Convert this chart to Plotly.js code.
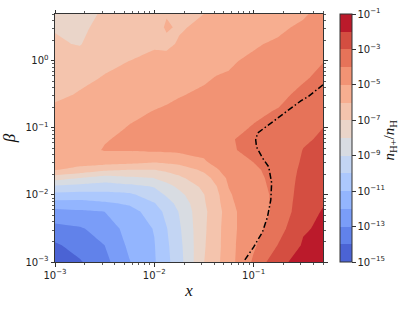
<!DOCTYPE html>
<html>
<head>
<meta charset="utf-8">
<script src="https://cdn.plot.ly/plotly-3.0.1.min.js"></script>
<style>html,body{margin:0;padding:0;background:#fff;}#chart{width:415px;height:310px;}</style>
</head>
<body>
<div id="chart"></div>
<script>
// grid of x values
const xGrid = [0.001, 0.00178, 0.00316, 0.00562, 0.01, 0.0133, 0.0178, 0.0316, 0.0422, 0.0562, 0.1, 0.178, 0.316, 0.5];
// grid of beta values
const betaGrid = [0.001, 0.00178, 0.00316, 0.00562, 0.0075, 0.01, 0.0133, 0.0178, 0.0237, 0.0316,
                  0.0468, 0.0676, 0.1, 0.178, 0.316, 0.562, 1, 1.78, 3.16, 5];
// log10(n_H+/n_H), one row per beta value
const logRatio = [
  [-14.7, -14.1, -13.3, -12.05, -11.1, -10.25, -9.4, -7.02, -6.25, -5.4, -3.85, -2.2, -1.7, -1.4],
  [-14.15, -13.6, -13.0, -11.8, -11.05, -10.18, -9.3, -7.1, -6.38, -5.35, -4.15, -2.95, -1.9, -1.6],
  [-13.3, -13.1, -12.6, -11.6, -10.95, -10.05, -9.15, -7.15, -6.44, -5.3, -4.4, -3.4, -2.1, -1.85],
  [-12.3, -12.15, -12.0, -11.4, -10.5, -9.73, -8.95, -7.15, -6.6, -5.3, -4.4, -3.8, -2.3, -1.95],
  [-11.4, -11.4, -11.15, -10.85, -10.05, -9.38, -8.7, -7.1, -6.4, -5.2, -4.35, -3.8, -2.4, -2.05],
  [-10.35, -10.4, -10.3, -10.2, -9.5, -8.9, -8.3, -7.03, -6.3, -5.1, -4.35, -3.8, -2.5, -2.15],
  [-9.2, -9.4, -9.5, -9.3, -8.95, -8.38, -7.8, -6.8, -6.05, -4.98, -4.3, -3.75, -2.6, -2.3],
  [-7.6, -8.05, -8.5, -8.2, -8.0, -7.6, -7.2, -6.4, -5.7, -4.8, -4.25, -3.7, -2.7, -2.45],
  [-5.95, -6.3, -6.8, -7.0, -7.0, -6.8, -6.6, -5.8, -5.1, -4.6, -4.15, -3.65, -2.8, -2.55],
  [-5.7, -5.6, -5.5, -5.6, -5.85, -5.73, -5.6, -5.1, -4.7, -4.4, -3.98, -3.6, -2.9, -2.65],
  [-5.55, -5.3, -4.95, -4.95, -4.85, -4.83, -4.8, -4.75, -4.5, -4.1, -3.8, -3.55, -2.98, -2.78],
  [-5.5, -5.4, -5.05, -4.85, -4.75, -4.68, -4.6, -4.6, -4.35, -4.05, -3.85, -3.65, -3.1, -2.9],
  [-5.6, -5.55, -5.25, -4.95, -4.8, -4.7, -4.6, -4.55, -4.4, -4.2, -3.95, -3.75, -3.25, -3.0],
  [-5.78, -5.75, -5.5, -5.2, -4.98, -4.89, -4.8, -4.7, -4.6, -4.5, -4.15, -3.95, -3.5, -3.3],
  [-6.2, -5.93, -5.7, -5.45, -5.3, -5.18, -5.05, -4.88, -4.82, -4.75, -4.35, -4.2, -3.8, -3.55],
  [-6.45, -6.2, -5.95, -5.7, -5.55, -5.45, -5.35, -5.1, -4.97, -4.93, -4.6, -4.4, -4.1, -3.8],
  [-6.7, -6.6, -6.2, -6.0, -5.8, -5.7, -5.6, -5.35, -5.22, -5.1, -4.85, -4.6, -4.35, -4.03],
  [-6.9, -7.05, -6.45, -6.25, -6.1, -6.2, -5.9, -5.6, -5.45, -5.3, -5.1, -4.85, -4.6, -4.25],
  [-7.05, -7.2, -6.7, -6.5, -6.35, -5.9, -6.1, -5.8, -5.65, -5.5, -5.3, -5.2, -4.8, -4.45],
  [-7.2, -7.25, -6.9, -6.7, -6.55, -6.05, -6.3, -6.0, -5.85, -5.7, -5.5, -5.3, -5.15, -4.6]
];
// dash-dotted boundary curve
const boundaryX = [0.5, 0.351, 0.299, 0.201, 0.149, 0.110, 0.105, 0.107, 0.123, 0.142, 0.152, 0.149, 0.138, 0.123, 0.100, 0.079];
const boundaryBeta = [0.439, 0.290, 0.253, 0.162, 0.119, 0.0841, 0.0662, 0.0520, 0.0356, 0.0262, 0.0151, 0.00841, 0.0047, 0.00281, 0.00167, 0.001];
// contour levels (log10) and colours of the 14 bands
const levelStart = -15, levelEnd = -1, levelStep = 1;
const bandColors = ['#4b63d4','#6182ea','#7a9df8','#93b5fe','#acc8fd','#c3d5f3','#d8dce2',
                    '#ead5c9','#f4c4ad','#f7ae90','#f29374','#e67359','#d44e41','#bb1a2b'];
const cbTickVals = [-15, -13, -11, -9, -7, -5, -3, -1];
const axisTickVals = [0.001, 0.01, 0.1, 1];

function sup(e) { return '10<sup>' + (e < 0 ? '\u2212' + (-e) : e) + '</sup>'; }

// colourscale for contour fill (plotly evaluates each band at level + step/2)
const nLev = Math.round((levelEnd - levelStart) / levelStep) + 1;
const contourScale = [];
for (let j = 0; j <= nLev; j++) {
  const col = bandColors[Math.min(Math.max(j - 1, 0), bandColors.length - 1)];
  const a = Math.max(0, (j - 0.5) / nLev), b = Math.min(1, (j + 0.5) / nLev);
  contourScale.push([a, col], [b, col]);
}
// colourscale for the colour bar
const nb = bandColors.length;
const barScale = [];
bandColors.forEach((c, k) => { barScale.push([k / nb, c], [(k + 1) / nb, c]); });

function minorVals(lo, hi) {
  const out = [];
  for (let e = lo; e <= hi; e++) for (let m = 2; m <= 9; m++) out.push(m * Math.pow(10, e));
  return out;
}

const lineCol = '#333';
const tickFont = {family: 'DejaVu Sans', size: 10, color: '#222'};

const traces = [
  {
    type: 'contour', x: xGrid, y: betaGrid, z: logRatio,
    autocontour: false,
    contours: {start: levelStart, end: levelEnd, size: levelStep, coloring: 'fill', showlines: false},
    line: {width: 0, smoothing: 0},
    colorscale: contourScale, showscale: false, hoverinfo: 'skip'
  },
  {
    type: 'scatter', mode: 'lines', x: boundaryX, y: boundaryBeta,
    line: {color: '#000', width: 1.5, dash: '6px,2.5px,1.5px,2.5px'},
    hoverinfo: 'skip', showlegend: false
  },
  {
    type: 'scatter', mode: 'markers', x: [0.01], y: [0.01],
    marker: {
      size: 1, opacity: 0, color: [-8], cmin: levelStart, cmax: levelEnd,
      colorscale: barScale, showscale: true,
      colorbar: {
        x: 1.0634, xanchor: 'left', y: 0.5, yanchor: 'middle',
        len: 248, lenmode: 'pixels', thickness: 12, thicknessmode: 'pixels',
        xpad: 0, ypad: 0, outlinewidth: 1, outlinecolor: lineCol,
        tickmode: 'array', tickvals: cbTickVals, ticktext: cbTickVals.map(sup),
        ticks: 'outside', ticklen: 3.5, tickwidth: 1, tickcolor: lineCol,
        tickfont: tickFont
      }
    },
    hoverinfo: 'skip', showlegend: false
  }
];

const layout = {
  width: 415, height: 310,
  margin: {l: 55, r: 92, t: 14, b: 48},
  paper_bgcolor: '#fff', plot_bgcolor: '#fff',
  showlegend: false,
  xaxis: {
    type: 'log', range: [-3, Math.log10(0.5)],
    tickmode: 'array', tickvals: axisTickVals, ticktext: axisTickVals.map(v => sup(Math.round(Math.log10(v)))),
    ticks: 'outside', ticklen: 3.5, tickwidth: 1, tickcolor: lineCol,
    minor: {tickmode: 'array', tickvals: minorVals(-3, -1), ticks: 'outside', ticklen: 2, tickwidth: 0.8, tickcolor: lineCol, showgrid: false},
    showline: true, linecolor: lineCol, linewidth: 1, mirror: 'allticks',
    showgrid: false, zeroline: false, tickfont: tickFont,
    title: {text: '<i>x</i>', font: {family: 'Liberation Serif', size: 17, color: '#111'}, standoff: 4},
    automargin: false
  },
  yaxis: {
    type: 'log', range: [-3, Math.log10(5)],
    tickmode: 'array', tickvals: axisTickVals, ticktext: axisTickVals.map(v => sup(Math.round(Math.log10(v)))),
    ticks: 'outside', ticklen: 3.5, tickwidth: 1, tickcolor: lineCol,
    minor: {tickmode: 'array', tickvals: minorVals(-3, 0), ticks: 'outside', ticklen: 2, tickwidth: 0.8, tickcolor: lineCol, showgrid: false},
    showline: true, linecolor: lineCol, linewidth: 1, mirror: 'allticks',
    showgrid: false, zeroline: false, tickfont: tickFont,
    title: {text: '<i>β</i>', font: {family: 'Liberation Serif', size: 17, color: '#111'}, standoff: 6},
    automargin: false
  },
  annotations: [{
    xref: 'paper', yref: 'paper', x: 1.25, y: 0.49, xanchor: 'center', yanchor: 'middle',
    text: '<i>n</i><sub>H+</sub>/<i>n</i><sub>H</sub>', textangle: -90, showarrow: false,
    font: {family: 'Liberation Serif', size: 15, color: '#111'}
  }]
};

Plotly.newPlot('chart', traces, layout, {displayModeBar: false, staticPlot: true});
</script>
</body>
</html>
